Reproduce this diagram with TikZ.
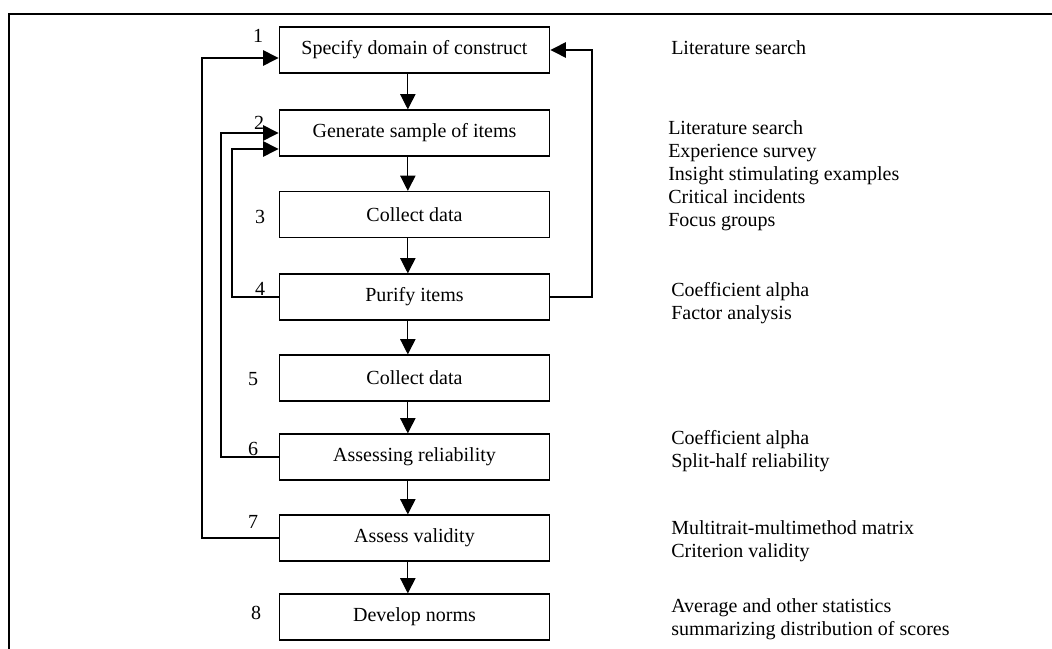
\documentclass[tikz,border=0pt]{standalone}
\usepackage{fontspec}
\setmainfont{Liberation Serif}
\usepackage{tikz}
\usetikzlibrary{arrows.meta}

\begin{document}
\begin{tikzpicture}[
    x=0.75pt, y=-0.75pt,
    every node/.style={font=\fontsize{15}{17.3}\selectfont, inner sep=0pt},
    stepbox/.style={draw, line width=0.9pt, minimum width=203pt, minimum height=34.5pt},
    num/.style={anchor=center},
    note/.style={anchor=west, align=left},
    arr/.style={-{Triangle[length=11.5pt, width=11.5pt]}, line width=0.9pt},
    fb/.style={arr},
    frame/.style={line width=1.8pt},
]
\useasboundingbox (0,0) rectangle (1052,649);
\draw[frame] (9,649) -- (9,14) -- (1052,14);
% steps
\node[stepbox] (b1) at (414.5,50) {Specify domain of construct};
\node[stepbox] (b2) at (414.5,133) {Generate sample of items};
\node[stepbox] (b3) at (414.5,214.5) {Collect data};
\node[stepbox] (b4) at (414.5,297) {Purify items};
\node[stepbox] (b5) at (414.5,378) {Collect data};
\node[stepbox] (b6) at (414.5,457) {Assessing reliability};
\node[stepbox] (b7) at (414.5,538) {Assess validity};
\node[stepbox] (b8) at (414.5,617) {Develop norms};
% step numbers
\node[num] (n1) at (258,36) {1};
\node[num] (n2) at (259,123) {2};
\node[num] (n3) at (260,217) {3};
\node[num] (n4) at (260,289) {4};
\node[num] (n5) at (253,379) {5};
\node[num] (n6) at (253,449) {6};
\node[num] (n7) at (253,522) {7};
\node[num] (n8) at (256,613) {8};
% methods
\node[note] (m1) at (671,48) {Literature search};
\node[note] (m2) at (668,176) {Literature search\\Experience survey\\Insight stimulating examples\\Critical incidents\\Focus groups};
\node[note] (m4) at (671,303.5) {Coefficient alpha\\Factor analysis};
\node[note] (m6) at (671,451) {Coefficient alpha\\Split-half reliability};
\node[note] (m7) at (671,541.5) {Multitrait-multimethod matrix\\Criterion validity};
\node[note] (m8) at (671,619.5) {Average and other statistics\\summarizing distribution of scores};
% flow
\foreach \a/\b in {b1/b2, b2/b3, b3/b4, b4/b5, b5/b6, b6/b7, b7/b8} {
  \draw[arr] ([xshift=-5pt]\a.south) -- ([xshift=-5pt]\b.north);
}
% feedback loops
\draw[fb] (b7.west) -- (202,538) |- ([yshift=-6pt]b1.west);
\draw[fb] (b6.west) -- (221,457) |- (b2.west);
\draw[fb] (b4.west) -- (232,297) |- ([yshift=-12pt]b2.west);
\draw[fb] (b4.east) -- (592,297) |- (b1.east);
\end{tikzpicture}
\end{document}
